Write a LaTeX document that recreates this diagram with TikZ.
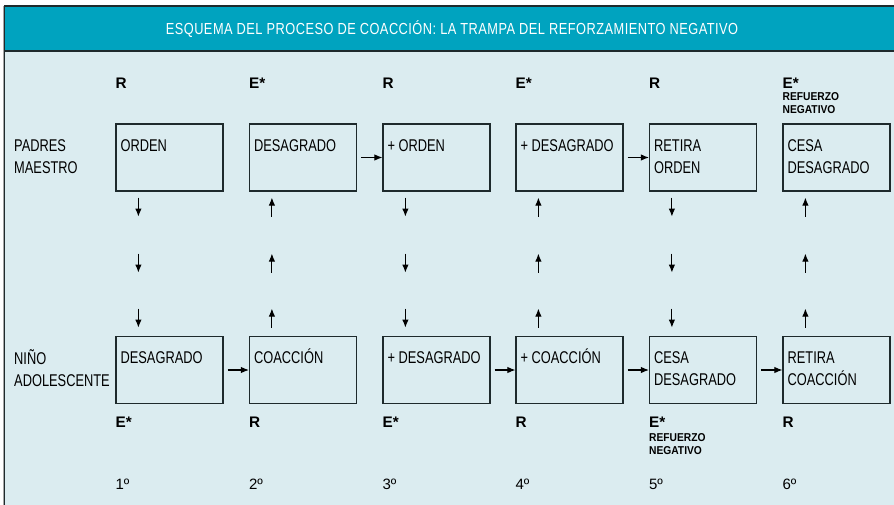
\documentclass[tikz,border=0pt]{standalone}
\usepackage{fontspec}
\setmainfont{Liberation Sans}
\newfontfamily\condfont[FakeStretch=0.755]{Liberation Sans}
\newfontfamily\titlefont[FakeStretch=0.8,LetterSpace=3]{Liberation Sans}
\newfontfamily\minifont[FakeStretch=0.9]{Liberation Sans}
\usetikzlibrary{arrows.meta,calc}

\definecolor{cabecera}{HTML}{00A3BF}
\definecolor{fondo}{HTML}{DBECF0}
\definecolor{borde}{HTML}{1E2A2C}

\tikzset{
  caja/.style={draw=borde, line width=1.2pt, minimum width=107pt, minimum height=67pt, inner sep=0pt},
  txt/.style={font=\condfont\fontsize{17}{22}\selectfont, align=left, inner sep=0pt, anchor=base west},
  etiq/.style={font=\bfseries\fontsize{15.3}{16}\selectfont, inner sep=0pt, anchor=west},
  mini/.style={font=\minifont\bfseries\fontsize{11.4}{13.5}\selectfont, align=left, inner sep=0pt, anchor=north west},
  num/.style={font=\fontsize{15}{16}\selectfont, inner sep=0pt, anchor=west},
  flecha/.style={-{Latex[length=8pt,width=6.5pt]}, line width=1.1pt},
}

\begin{document}
\begin{tikzpicture}[x=1pt,y=-1pt]
            \useasboundingbox (0,0) rectangle (894,505);
            % marco y cabecera
            \fill[fondo] (4.5,6) rectangle (894,505);
            \fill[cabecera] (4.5,6) rectangle (894,51);
            \draw[borde, line width=1.2pt] (4.5,51) -- (894,51);
            \draw[borde, line width=1.2pt] (894,6) -- (4.5,6) -- (4.5,505);
            \draw[black!35, line width=0.8pt] (3.3,6) -- (3.3,505);
            \node[font=\titlefont\fontsize{16}{17}\selectfont, text=white, inner sep=0pt] (titulo) at (452,29)
                {ESQUEMA DEL PROCESO DE COACCIÓN: LA TRAMPA DEL REFORZAMIENTO NEGATIVO};

            % fila de padres / maestro
            \node[txt] (padres) at (14,174) {PADRES\\MAESTRO};
            \node[caja] (p1) at (169.5,157.5) {};
            \node[caja] (p2) at (303,157.5) {};
            \node[caja] (p3) at (436.5,157.5) {};
            \node[caja] (p4) at (569.5,157.5) {};
            \node[caja] (p5) at (703,157.5) {};
            \node[caja] (p6) at (836.5,157.5) {};
            \node[txt] (tp1) at ($(p1.north west)+(5,28)$) {ORDEN};
            \node[txt] (tp2) at ($(p2.north west)+(5,28)$) {DESAGRADO};
            \node[txt] (tp3) at ($(p3.north west)+(5,28)$) {+ ORDEN};
            \node[txt] (tp4) at ($(p4.north west)+(5,28)$) {+ DESAGRADO};
            \node[txt] (tp5) at ($(p5.north west)+(5,50)$) {RETIRA\\ORDEN};
            \node[txt] (tp6) at ($(p6.north west)+(5,50)$) {CESA\\DESAGRADO};

            % fila de niño / adolescente
            \node[txt] (nino) at (14,386) {NIÑO\\ADOLESCENTE};
            \node[caja] (n1) at (169.5,370) {};
            \node[caja] (n2) at (303,370) {};
            \node[caja] (n3) at (436.5,370) {};
            \node[caja] (n4) at (569.5,370) {};
            \node[caja] (n5) at (703,370) {};
            \node[caja] (n6) at (836.5,370) {};
            \node[txt] (tn1) at ($(n1.north west)+(5,28)$) {DESAGRADO};
            \node[txt] (tn2) at ($(n2.north west)+(5,28)$) {COACCIÓN};
            \node[txt] (tn3) at ($(n3.north west)+(5,28)$) {+ DESAGRADO};
            \node[txt] (tn4) at ($(n4.north west)+(5,28)$) {+ COACCIÓN};
            \node[txt] (tn5) at ($(n5.north west)+(5,50)$) {CESA\\DESAGRADO};
            \node[txt] (tn6) at ($(n6.north west)+(5,50)$) {RETIRA\\COACCIÓN};

            % etiquetas de arriba
            \node[etiq] (ep1) at (p1.west |- 0,83) {R};
            \node[etiq] (ep2) at (p2.west |- 0,83) {E*};
            \node[etiq] (ep3) at (p3.west |- 0,83) {R};
            \node[etiq] (ep4) at (p4.west |- 0,83) {E*};
            \node[etiq] (ep5) at (p5.west |- 0,83) {R};
            \node[etiq] (ep6) at (p6.west |- 0,83) {E*};
            \node[mini] (rp6) at (p6.west |- 0,92) {REFUERZO\\NEGATIVO};

            % etiquetas de abajo
            \node[etiq] (en1) at (n1.west |- 0,422) {E*};
            \node[etiq] (en2) at (n2.west |- 0,422) {R};
            \node[etiq] (en3) at (n3.west |- 0,422) {E*};
            \node[etiq] (en4) at (n4.west |- 0,422) {R};
            \node[etiq] (en5) at (n5.west |- 0,422) {E*};
            \node[etiq] (en6) at (n6.west |- 0,422) {R};
            \node[mini] (rn5) at (n5.west |- 0,433) {REFUERZO\\NEGATIVO};

            % pasos
            \foreach \c/\t in {1/1º,2/2º,3/3º,4/4º,5/5º,6/6º}
                \node[num] (paso\c) at (n\c.west |- 0,484) {\t};

            % flechas verticales
            \foreach \c in {1,3,5} {
                \foreach \y in {6,62,117}
                    \draw[flecha] ($(p\c.south west)+(23,\y)$) -- +(0,19);
            }
            \foreach \c in {2,4,6} {
                \foreach \y in {6,62,117}
                    \draw[flecha] ($(p\c.south west)+(23,\y+19)$) -- +(0,-19);
            }

            % flechas horizontales
            \draw[flecha, shorten <=4pt] (p2.east) -- (p3.west);
            \draw[flecha, shorten <=4pt] (p4.east) -- (p5.west);
            \draw[flecha, shorten <=4pt] (n1.east) -- (n2.west);
            \draw[flecha, shorten <=4pt] (n3.east) -- (n4.west);
            \draw[flecha, shorten <=4pt] (n4.east) -- (n5.west);
            \draw[flecha, shorten <=4pt] (n5.east) -- (n6.west);
\end{tikzpicture}
\end{document}
